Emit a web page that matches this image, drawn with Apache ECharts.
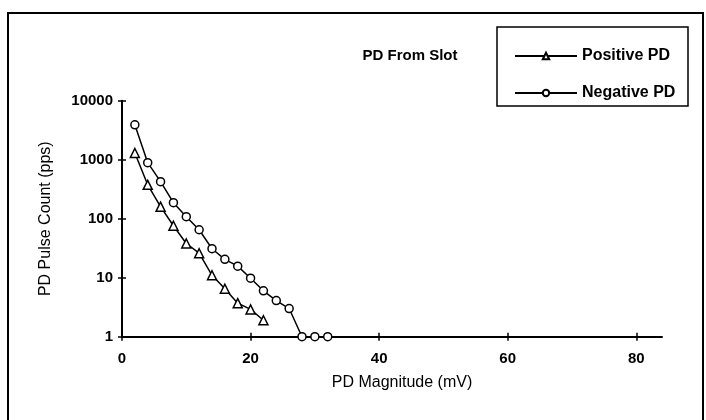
<!DOCTYPE html>
<html>
<head>
<meta charset="utf-8">
<script src="https://cdn.jsdelivr.net/npm/echarts@6/dist/echarts.min.js"></script>
<style>html,body{margin:0;padding:0;background:#fff;}#c{width:706px;height:420px;}</style>
</head>
<body>
<div id="c"></div>
<script>
const titleText = 'PD From Slot';
const xName = 'PD Magnitude (mV)';
const yName = 'PD Pulse Count (pps)';
const xTicks = [0, 20, 40, 60, 80];
const yTicks = [1, 10, 100, 1000, 10000];
const posName = 'Positive PD';
const negName = 'Negative PD';
const posX = [2, 4, 6, 8, 10, 12, 14, 16, 18, 20, 22];
const posY = [1300, 375, 160, 76, 38, 26, 11, 6.5, 3.7, 2.9, 1.9];
const negX = [2, 4, 6, 8, 10, 12, 14, 16, 18, 20, 22, 24, 26, 28, 30, 32];
const negY = [3900, 890, 425, 187, 108, 65, 31, 20.5, 15.7, 9.8, 6, 4.1, 3.0, 1, 1, 1];

const FONT = 'Liberation Sans, Arial, sans-serif';
const chart = echarts.init(document.getElementById('c'));
const pair = (xs, ys) => xs.map((x, i) => [x, ys[i]]);
const baseX = {
  type: 'value', min: 0, max: 84, interval: 20, gridIndex: 0,
  splitLine: { show: false }
};
const baseY = {
  type: 'log', logBase: 10, min: 1, max: 10000, gridIndex: 0,
  splitLine: { show: false }, minorTick: { show: false }
};
chart.setOption({
  animation: false,
  backgroundColor: '#fff',
  grid: { left: 122, right: 44, top: 100.7, bottom: 83.3 },
  title: {
    text: titleText, left: 405, top: 43, textAlign: 'center',
    textStyle: { fontFamily: FONT, fontSize: 15, fontWeight: 'bold', color: '#000' }
  },
  legend: [
    { data: [posName], left: 509, top: 43, itemWidth: 62, itemHeight: 8,
      textStyle: { fontFamily: FONT, fontSize: 16, fontWeight: 'bold', color: '#000' } },
    { data: [negName], left: 509, top: 80, itemWidth: 62, itemHeight: 8,
      textStyle: { fontFamily: FONT, fontSize: 16, fontWeight: 'bold', color: '#000' } }
  ],
  xAxis: [
    Object.assign({}, baseX, {
      name: xName, nameLocation: 'middle', nameGap: 38,
      nameTextStyle: { fontFamily: FONT, fontSize: 16, color: '#000', padding: [0, 0, 0, 20] },
      axisLine: { show: true, lineStyle: { color: '#000', width: 2 } },
      axisTick: { show: true, length: 4, lineStyle: { color: '#000', width: 1.5 }, customValues: xTicks },
      axisLabel: { fontFamily: FONT, fontSize: 15, fontWeight: 'bold', color: '#000', margin: 15, customValues: xTicks }
    }),
    Object.assign({}, baseX, {
      position: 'bottom',
      axisLine: { show: false },
      axisTick: { show: true, inside: true, length: 4, lineStyle: { color: '#000', width: 1.5 }, customValues: xTicks },
      axisLabel: { show: false }
    })
  ],
  yAxis: [
    Object.assign({}, baseY, {
      name: yName, nameLocation: 'middle', nameGap: 68, nameRotate: 90,
      nameTextStyle: { fontFamily: FONT, fontSize: 16, color: '#000' },
      axisLine: { show: true, lineStyle: { color: '#000', width: 2 } },
      axisTick: { show: true, length: 4, lineStyle: { color: '#000', width: 1.5 } },
      axisLabel: { fontFamily: FONT, fontSize: 15, fontWeight: 'bold', color: '#000', margin: 9,
        formatter: v => String(Math.round(v)) }
    }),
    Object.assign({}, baseY, {
      position: 'left',
      axisLine: { show: false },
      axisTick: { show: true, inside: true, length: 4, lineStyle: { color: '#000', width: 1.5 } },
      axisLabel: { show: false }
    })
  ],
  graphic: [
    { type: 'polyline', shape: { points: [[8, 420], [8, 13], [703, 13], [703, 420]] },
      style: { fill: null, stroke: '#000', lineWidth: 2 }, silent: true },
    { type: 'rect', shape: { x: 497, y: 27, width: 191, height: 79 },
      style: { fill: null, stroke: '#000', lineWidth: 1.5 }, silent: true }
  ],
  series: [
    { name: posName, type: 'line', data: pair(posX, posY), xAxisIndex: 0, yAxisIndex: 0,
      symbol: 'triangle', symbolSize: 9, showSymbol: true,
      lineStyle: { color: '#000', width: 1.5 },
      itemStyle: { color: '#fff', borderColor: '#000', borderWidth: 1.5 } },
    { name: negName, type: 'line', data: pair(negX, negY), xAxisIndex: 0, yAxisIndex: 0,
      symbol: 'circle', symbolSize: 8, showSymbol: true,
      lineStyle: { color: '#000', width: 1.5 },
      itemStyle: { color: '#fff', borderColor: '#000', borderWidth: 1.5 } }
  ]
});
</script>
</body>
</html>
